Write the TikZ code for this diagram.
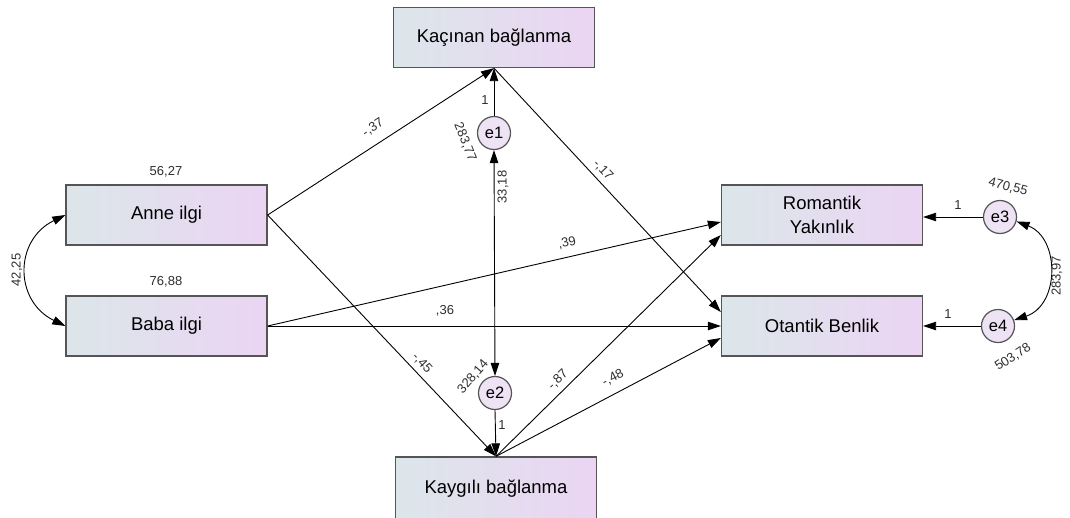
\documentclass[tikz,border=0pt]{standalone}
\usepackage{fontspec}
\setmainfont{Liberation Sans}
\usetikzlibrary{arrows.meta}
\definecolor{boxL}{HTML}{DCE6EA}
\definecolor{boxR}{HTML}{EBD5F3}
\definecolor{circF}{HTML}{EDE3F5}
\definecolor{lbl}{HTML}{2E2E2E}
\definecolor{edgec}{HTML}{555555}
\begin{document}
\begin{tikzpicture}[x=1pt,y=-1pt,
  varbox/.style={draw=edgec, line width=1.3pt, left color=boxL, right color=boxR,
    minimum width=201pt, minimum height=60pt, inner sep=0pt, align=center,
    font=\fontsize{18.5}{24}\selectfont},
  errc/.style={circle, draw=edgec, line width=1.2pt, fill=circF, minimum size=33pt,
    inner sep=0pt, font=\fontsize{16.5}{18}\selectfont},
  conn/.style={line width=0.9pt, -{Triangle[length=13pt,width=8.5pt]}},
  cov/.style={line width=0.9pt, {Triangle[length=13pt,width=8.5pt]}-{Triangle[length=13pt,width=8.5pt]}},
  lab/.style={font=\fontsize{13}{15}\selectfont, text=lbl, inner sep=0pt}
]
\useasboundingbox (0,0) rectangle (1070,517);
\clip (0,0) rectangle (1070,517);

% boxes
\node[varbox] (kac) at (494,37.5) {Kaçınan bağlanma};
\node[varbox] (anne) at (166.5,215) {Anne ilgi};
\node[varbox] (baba) at (166.5,326) {Baba ilgi};
\node[varbox] (rom) at (822,215) {Romantik\\Yakınlık};
\node[varbox] (ota) at (822,326) {Otantik Benlik};
\node[varbox,minimum height=64pt] (kay) at (496,489) {\raisebox{3pt}{Kaygılı bağlanma}};

% error terms
\node[errc] (e1) at (494,133) {e1};
\node[errc] (e2) at (495,393) {e2};
\node[errc] (e3) at (1000,217) {e3};
\node[errc] (e4) at (998,326) {e4};

% paths
\draw[conn] (anne.east) -- (kac.south);
\draw[conn] (kac.south) -- ([yshift=14pt]ota.west);
\draw[conn] (anne.east) -- (kay.north);
\draw[conn] (baba.east) -- ([yshift=-7pt]rom.west);
\draw[conn] (baba.east) -- (ota.west);
\draw[conn] (kay.north) -- ([yshift=-20pt]rom.west);
\draw[conn] (kay.north) -- ([yshift=-12pt]ota.west);
\draw[conn] (e1.north) -- (kac.south);
\draw[conn] (e2.south) -- (kay.north);
\draw[conn] (e3.west) -- (e3.west -| rom.east);
\draw[conn] (e4.west) -- (e4.west -| ota.east);
\draw[cov] (e1.south) -- (e2.north);
\draw[cov] (anne.west) .. controls (14,240) and (14,301) .. (baba.west);
\draw[cov] (e3.-15) .. controls (1060,238) and (1060,305) .. (e4.20);

% labels
\node[lab] (v1) at (166,172) {56,27};
\node[lab] (v2) at (166,282) {76,88};
\node[lab,rotate=90] (c1) at (17,270) {42,25};
\node[lab,rotate=33] (p1) at (373,128) {-,37};
\node[lab,rotate=-47] (p2) at (603,170) {-,17};
\node[lab,rotate=-47] (p3) at (422,363) {-,45};
\node[lab,rotate=13] (p4) at (567,243) {,39};
\node[lab] (p5) at (445,311) {,36};
\node[lab,rotate=44] (p6) at (558,380) {-,87};
\node[lab,rotate=27] (p7) at (613,378) {-,48};
\node[lab] (o1) at (485,100) {1};
\node[lab,rotate=-68] (r1) at (465,142) {283,77};
\node[lab,rotate=90] (c2) at (503,187) {33,18};
\node[lab,rotate=49] (r2) at (473,377) {328,14};
\node[lab] (o2) at (502,425) {1};
\node[lab,rotate=-15] (r3) at (1008,187) {470,55};
\node[lab] (o3) at (958,205) {1};
\node[lab,rotate=33] (r4) at (1013,357) {503,78};
\node[lab] (o4) at (948,314) {1};
\node[lab,rotate=90] (c3) at (1057,276) {283,97};
\end{tikzpicture}
\end{document}
